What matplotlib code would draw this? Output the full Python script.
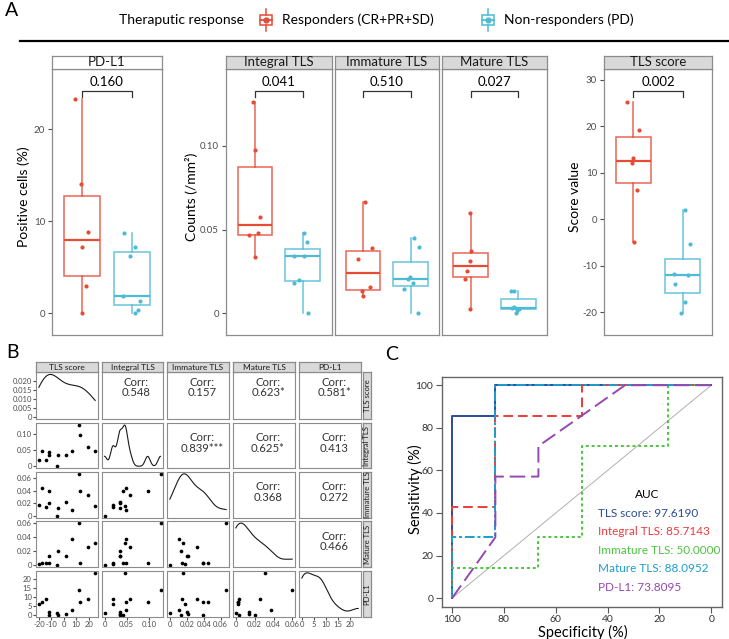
import numpy as np
import matplotlib
matplotlib.use('Agg')
import matplotlib.pyplot as plt
from matplotlib.patches import Rectangle
from matplotlib.lines import Line2D

plt.rcParams['font.family'] = ['Lato', 'DejaVu Sans']

W, H = 729, 639

# ---- patient level data: 6 responders (R) then 7 non-responders (N) ----
group = ['R'] * 6 + ['N'] * 7
tls_score = [25.3, 19.1, 13.1, 12.0, 6.3, -5.0, 2.0, -5.4, -11.8, -12.1, -14.0, -17.7, -20.2]
integral_tls = [0.0466, 0.0578, 0.0974, 0.1265, 0.0478, 0.0339, 0.0341, 0.0, 0.0341, 0.0428, 0.0183, 0.0478, 0.0199]
immature_tls = [0.0155, 0.0325, 0.0388, 0.0665, 0.0104, 0.0135, 0.0215, 0.0, 0.0205, 0.0394, 0.0147, 0.0448, 0.0178]
mature_tls = [0.0313, 0.0253, 0.0026, 0.0598, 0.0373, 0.0203, 0.0135, 0.0, 0.0135, 0.0032, 0.0038, 0.0028, 0.0020]
pd_l1 = [23.3, 8.8, 7.2, 14.1, 3.0, 0.0, 0.4, 1.3, 1.9, 0.0, 8.75, 7.2, 6.2]

# horizontal jitter of the dots in panel A
jit_pdl1 = [-0.14, 0.11, -0.01, -0.03, 0.07, 0.0, 0.11, 0.15, -0.18, 0.06, -0.16, 0.06, -0.04]
jit_int = [-0.13, 0.10, 0.0, -0.03, 0.06, 0.0, 0.03, 0.11, -0.19, 0.08, -0.19, 0.03, -0.07]
jit_imm = [0.15, -0.10, 0.19, 0.05, 0.0, -0.03, -0.02, 0.15, -0.05, 0.17, -0.14, 0.08, 0.06]
jit_mat = [-0.02, -0.07, -0.02, -0.02, 0.0, -0.11, -0.16, -0.05, -0.10, -0.13, -0.09, 0.01, -0.02]
jit_tls = [-0.13, 0.12, 0.0, -0.02, 0.07, 0.01, 0.06, 0.15, -0.18, 0.12, -0.16, 0.06, -0.04]

p_values = {'PD-L1': '0.160', 'Integral TLS': '0.041', 'Immature TLS': '0.510',
            'Mature TLS': '0.027', 'TLS score': '0.002'}

# ---- panel B ----
pair_names = ['TLS score', 'Integral TLS', 'Immature TLS', 'Mature TLS', 'PD-L1']
pair_vars = [tls_score, integral_tls, immature_tls, mature_tls, pd_l1]
pair_ticks = [[-20, -10, 0, 10, 20], [0, 0.05, 0.10], [0, 0.02, 0.04, 0.06],
              [0, 0.02, 0.04, 0.06], [0, 5, 10, 15, 20]]
pair_ticklabels = [['-20', '-10', '0', '10', '20'], ['0', '0.05', '0.10'],
                   ['0', '0.02', '0.04', '0.06'], ['0', '0.02', '0.04', '0.06'],
                   ['0', '5', '10', '15', '20']]
dens_ticks = [0, 0.005, 0.010, 0.015, 0.020]
dens_ticklabels = ['0', '0.005', '0.010', '0.015', '0.020']
corr_upper = ['0.548', '0.157', '0.623*', '0.581*', '0.839***', '0.625*', '0.413',
              '0.368', '0.272', '0.466']

# ---- panel C: ROC curves (specificity, sensitivity in %) ----
roc_names = ['TLS score', 'Integral TLS', 'Immature TLS', 'Mature TLS', 'PD-L1']
roc_auc = ['97.6190', '85.7143', '50.0000', '88.0952', '73.8095']
roc_spec = [[100, 100, 83.3, 83.3, 0],
            [100, 100, 83.3, 83.3, 50, 50, 0],
            [100, 100, 66.7, 66.7, 50, 50, 16.7, 16.7, 0],
            [100, 100, 83.3, 83.3, 0],
            [100, 83.3, 83.3, 66.7, 66.7, 33.3, 0]]
roc_sens = [[0, 85.7, 85.7, 100, 100],
            [0, 42.9, 42.9, 85.7, 85.7, 100, 100],
            [0, 14.3, 14.3, 28.6, 28.6, 71.4, 71.4, 100, 100],
            [0, 28.6, 28.6, 100, 100],
            [0, 28.6, 57.1, 57.1, 71.4, 100, 100]]

RED = '#E64B35'
BLUE = '#4DBBD5'
EDGE = '#8C8C8C'
TICKC = '#4D4D4D'
STRIP = '#D9D9D9'


def px_axes(fig, x0, y0, x1, y1):
    return fig.add_axes([x0 / W, 1 - y1 / H, (x1 - x0) / W, (y1 - y0) / H])


def strip(fig, x0, y0, x1, y1, text, fc=STRIP, size=9.5, rot=0):
    s = px_axes(fig, x0, y0, x1, y1)
    s.set_facecolor(fc)
    s.set_xticks([])
    s.set_yticks([])
    for sp in s.spines.values():
        sp.set_color(EDGE)
        sp.set_linewidth(0.9)
    s.text(0.5, 0.5, text, ha='center', va='center', fontsize=size, rotation=rot,
           transform=s.transAxes, color='#1a1a1a')
    return s


def frame(ax, lw=0.9):
    for sp in ax.spines.values():
        sp.set_color(EDGE)
        sp.set_linewidth(lw)


def density_nrd0(v, grid):
    v = np.asarray(v, dtype=float)
    n = len(v)
    q75, q25 = np.percentile(v, [75, 25])
    bw = 0.9 * min(v.std(ddof=1), (q75 - q25) / 1.34) * n ** -0.2
    z = (grid[:, None] - v[None, :]) / bw
    return np.exp(-0.5 * z ** 2).sum(1) / (n * bw * np.sqrt(2 * np.pi))


def expand(v, f=0.05):
    lo, hi = min(v), max(v)
    pad = f * (hi - lo)
    return lo - pad, hi + pad


fig = plt.figure(figsize=(W / 100, H / 100), dpi=100)

# ---------------- panel A ----------------
fig.text(5 / W, 1 - 11 / H, 'A', fontsize=14, va='center', ha='left')
fig.text(119 / W, 1 - 20 / H, 'Theraputic response', fontsize=10, va='center')
fig.text(282 / W, 1 - 20 / H, 'Responders (CR+PR+SD)', fontsize=10, va='center')
fig.text(504 / W, 1 - 20 / H, 'Non-responders (PD)', fontsize=10, va='center')
for cx, col in [(266, RED), (488, BLUE)]:
    ik = px_axes(fig, cx - 9, 8, cx + 9, 32)
    ik.set_xlim(-1, 1)
    ik.set_ylim(-1, 1)
    ik.axis('off')
    ik.add_patch(Rectangle((-0.72, -0.45), 1.44, 0.9, fill=False, ec=col, lw=1.1))
    ik.plot([0, 0], [-0.95, -0.45], color=col, lw=1.1)
    ik.plot([0, 0], [0.45, 0.95], color=col, lw=1.1)
    ik.plot([-0.72, 0.72], [0, 0], color=col, lw=1.3)
    ik.plot([0], [0], 'o', color=col, ms=3.5)
fig.add_artist(Line2D([20 / W, 1], [1 - 41 / H, 1 - 41 / H], color='black', lw=1.6))

panels_a = [
    ('PD-L1', pd_l1, jit_pdl1, 52, 162, (-2.36, 26.55), [0, 10, 20], ['0', '10', '20'],
     'Positive cells (%)', -0.2, 'white'),
    ('Integral TLS', integral_tls, jit_int, 226, 331.5, (-0.013, 0.146), [0, 0.05, 0.10],
     ['0', '0.05', '0.10'], 'Counts (/mm²)', -0.265, STRIP),
    ('Immature TLS', immature_tls, jit_imm, 334.5, 439, (-0.013, 0.146), [0, 0.05, 0.10],
     None, None, 0, STRIP),
    ('Mature TLS', mature_tls, jit_mat, 442, 547, (-0.013, 0.146), [0, 0.05, 0.10],
     None, None, 0, STRIP),
    ('TLS score', tls_score, jit_tls, 604, 712, (-24.9, 32.3), [-20, -10, 0, 10, 20, 30],
     ['-20', '-10', '0', '10', '20', '30'], 'Score value', -0.213, STRIP),
]

for name, vals, jit, x0, x1, ylim, yt, ytl, ylab, labx, sfc in panels_a:
    ax = px_axes(fig, x0, 69, x1, 335)
    strip(fig, x0, 56, x1, 69, name, fc=sfc)
    frame(ax)
    for k, (grp, col) in enumerate([('R', RED), ('N', BLUE)]):
        idx = [i for i in range(len(group)) if group[i] == grp]
        v = [vals[i] for i in idx]
        ax.boxplot([v], positions=[k + 1], widths=0.72, whis=(0, 100),
                   showcaps=False, showfliers=False, patch_artist=True,
                   boxprops=dict(facecolor='white', edgecolor=col, lw=1.1, alpha=0.85),
                   whiskerprops=dict(color=col, lw=1.1, alpha=0.85),
                   medianprops=dict(color=col, lw=1.6))
        ax.scatter([k + 1 + jit[i] for i in idx], v, s=9, color=col, lw=0, zorder=4)
    ax.set_xlim(0.4, 2.6)
    ax.set_ylim(*ylim)
    ax.set_xticks([])
    ax.set_yticks(yt)
    if ytl is not None:
        ax.set_yticklabels(ytl)
        ax.tick_params(axis='y', length=3, color=TICKC, labelsize=7, labelcolor=TICKC, pad=2)
        ax.set_ylabel(ylab, fontsize=10)
        ax.yaxis.set_label_coords(labx, 0.52)
    else:
        ax.tick_params(axis='y', length=0, labelleft=False)
    tr = ax.get_xaxis_transform()
    ax.plot([1, 1, 2, 2], [0.896, 0.917, 0.917, 0.896], transform=tr, color='#333333',
            lw=0.9, clip_on=False)
    ax.text(1.5, 0.95, p_values[name], transform=tr, ha='center', va='center', fontsize=9.5)

# ---------------- panel B ----------------
fig.text(13 / W, 1 - 353 / H, 'B', fontsize=14, va='center', ha='center')
col_x = [(36, 98), (101.7, 163.3), (167, 229), (233, 295), (299, 361)]
row_y = [(372.3, 419.3), (423, 468.3), (471.7, 518.3), (521, 567.3), (570.7, 617.3)]
ranges = [expand(v) for v in pair_vars]
k_up = 0
for r in range(5):
    for c in range(5):
        x0, x1 = col_x[c]
        y0, y1 = row_y[r]
        ax = px_axes(fig, x0, y0, x1, y1)
        frame(ax, 0.8)
        ax.set_xlim(*ranges[c])
        ax.set_xticks(pair_ticks[c])
        if r == c:
            grid = np.linspace(min(pair_vars[c]), max(pair_vars[c]), 200)
            d = density_nrd0(pair_vars[c], grid)
            ax.plot(grid, d, color='#1a1a1a', lw=0.8)
            ax.set_ylim(-0.05 * d.max(), 1.05 * d.max())
            if r == 0:
                ax.set_yticks(dens_ticks)
                ax.set_yticklabels(dens_ticklabels)
            else:
                ax.set_yticks([])
        elif r > c:
            ax.scatter(pair_vars[c], pair_vars[r], s=7, color='black', lw=0)
            ax.set_ylim(*ranges[r])
            ax.set_yticks(pair_ticks[r])
        else:
            ax.set_yticks([])
            ax.text(0.565, 0.68 if r == 0 else 0.56, 'Corr:\n' + corr_upper[k_up],
                    transform=ax.transAxes, ha='center', va='center', fontsize=8.2,
                    color='#333333', linespacing=0.95)
            k_up += 1
        if r == 4:
            ax.set_xticklabels(pair_ticklabels[c])
            ax.tick_params(axis='x', length=2, color=TICKC, labelsize=5.5,
                           labelcolor=TICKC, pad=1)
        else:
            ax.tick_params(axis='x', length=0, labelbottom=False)
        if c == 0:
            if r > 0:
                ax.set_yticklabels(pair_ticklabels[r])
            ax.tick_params(axis='y', length=2, color=TICKC, labelsize=5.5,
                           labelcolor=TICKC, pad=1)
        else:
            ax.tick_params(axis='y', length=0, labelleft=False)
        if r == 0:
            strip(fig, x0, 362.3, x1, 372.3, pair_names[c], size=6)
    strip(fig, 362.5, row_y[r][0], 371.5, row_y[r][1], pair_names[r], size=5.5, rot=90)

# ---------------- panel C ----------------
fig.text(392 / W, 1 - 355 / H, 'C', fontsize=14, va='center', ha='center')
axc = px_axes(fig, 441.7, 376.7, 721.7, 606.7)
for sp in axc.spines.values():
    sp.set_color('#666666')
    sp.set_linewidth(1.0)
axc.plot([100, 0], [0, 100], color='#B0B0B0', lw=0.7)
roc_colors = ['#2B4B9B', '#F03A3A', '#4CC43F', '#1E9CCB', '#9448B0']
roc_styles = ['-', (0, (5, 2.5)), (0, (1.5, 1.5)), (0, (5, 1.5, 1.5, 1.5)), (0, (8, 3))]
for sp_, se_, col, ls in zip(roc_spec, roc_sens, roc_colors, roc_styles):
    axc.plot(sp_, se_, color=col, lw=1.4, linestyle=ls)
axc.set_xlim(104, -4)
axc.set_ylim(-4, 104)
axc.set_xticks([100, 80, 60, 40, 20, 0])
axc.set_yticks([0, 20, 40, 60, 80, 100])
axc.tick_params(length=4, color='#555555', labelsize=7.5, labelcolor='#333333', pad=2)
axc.set_xlabel('Specificity (%)', fontsize=10.5)
axc.set_ylabel('Sensitivity (%)', fontsize=10.5)
axc.xaxis.set_label_coords(0.505, -0.078)
axc.yaxis.set_label_coords(-0.067, 0.51)
axc.text(0.732, 0.49, 'AUC', transform=axc.transAxes, ha='center', va='center', fontsize=8.5)
for i, (nm, auc, col) in enumerate(zip(roc_names, roc_auc, roc_colors)):
    axc.text(0.557, 0.407 - i * 0.0808, f'{nm}: {auc}', transform=axc.transAxes,
             ha='left', va='center', fontsize=8.5, color=col)

fig.savefig('out.png', dpi=100)
